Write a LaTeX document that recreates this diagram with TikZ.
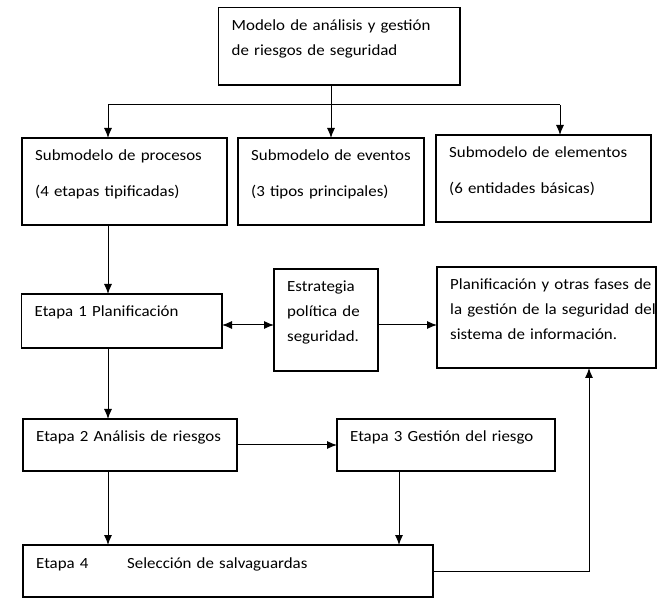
\documentclass[tikz,border=0pt]{standalone}
\usepackage{fontspec}
\setmainfont{Carlito}[FakeStretch=1.09]
\usetikzlibrary{arrows.meta,positioning,calc}

\begin{document}
\begin{tikzpicture}[
        x=1pt, y=-1pt,
        % boxes carry their text at the upper left corner
        txt/.style={anchor=base west, xshift=13pt, yshift=-23pt, inner sep=0pt, text width=420pt, align=left, font=\fontsize{15.5}{25}\selectfont},
        box/.style={draw, line width=1.2pt, anchor=north west, inner sep=0pt, outer sep=0pt, label={[txt]north west:#1}},
        arrow/.style={->, >={Latex[length=10pt,width=8pt]}, line width=1pt},
        biarrow/.style={arrow, <->}
      ]

      \useasboundingbox[fill=white] (0,0) rectangle (659,601);

      % Model and its three submodels
      \node[box={Modelo de análisis y gestión\\de riesgos de seguridad}, minimum width=241.5pt, minimum height=77.5pt] (modelo) at (218.5,7.5) {};
      \node[box={Submodelo de procesos\\[11pt](4 etapas tipificadas)}, minimum width=205pt, minimum height=87pt] (subproc) at (22,138) {};
      \node[box={Submodelo de eventos\\[11pt](3 tipos principales)}, minimum width=186pt, minimum height=87pt] (subeve) at (238,138) {};
      \node[box={Submodelo de elementos\\[11pt](6 entidades básicas)}, minimum width=215pt, minimum height=87pt] (subele) at (436,135) {};

      % Stages
      \node[box={Etapa 1 Planificación}, minimum width=200.5pt, minimum height=54pt] (etapa1) at (21.5,294) {};
      \node[box={Estrategia\\política de\\seguridad.}, minimum width=104pt, minimum height=102pt] (estrategia) at (274,269) {};
      \node[box={Planificación y otras fases de\\la gestión de la seguridad del\\sistema de información.}, minimum width=219pt, minimum height=101pt] (planif) at (437,267) {};
      \node[box={Etapa 2 Análisis de riesgos}, minimum width=214pt, minimum height=52pt] (etapa2) at (23,419) {};
      \node[box={Etapa 3 Gestión del riesgo}, minimum width=218pt, minimum height=52pt] (etapa3) at (337,419) {};
      \node[box={\makebox[91pt][l]{Etapa 4}Selección de salvaguardas}, minimum width=410pt, minimum height=52pt] (etapa4) at (23,545) {};

      % Routing points
      \coordinate (busL) at (108,105);
      \coordinate (busR) at (560,105);
      \coordinate (colB) at (399,0);
      \coordinate (colC) at (589,0);
      \coordinate (rowA) at (0,325);

      % Model to submodels
      \draw[line width=1pt] (busL) -- (busR);
      \draw[arrow] (modelo.south -| subeve.north) -- (subeve.north);
      \draw[arrow] (busL) -- (busL |- subproc.north);
      \draw[arrow] (busR) -- (busR |- subele.north);

      % Stage flow
      \draw[arrow] (busL |- subproc.south) -- (busL |- etapa1.north);
      \draw[arrow] (busL |- etapa1.south) -- (busL |- etapa2.north);
      \draw[arrow] (busL |- etapa2.south) -- (busL |- etapa4.north);
      \draw[biarrow] (etapa1.east |- rowA) -- (estrategia.west |- rowA);
      \draw[arrow] (estrategia.east |- rowA) -- (planif.west |- rowA);
      \draw[arrow] (etapa2) -- (etapa3);
      \draw[arrow] (colB |- etapa3.south) -- (colB |- etapa4.north);
      \draw[arrow] (etapa4.east) -| (colC |- planif.south);

    \end{tikzpicture}
\end{document}
